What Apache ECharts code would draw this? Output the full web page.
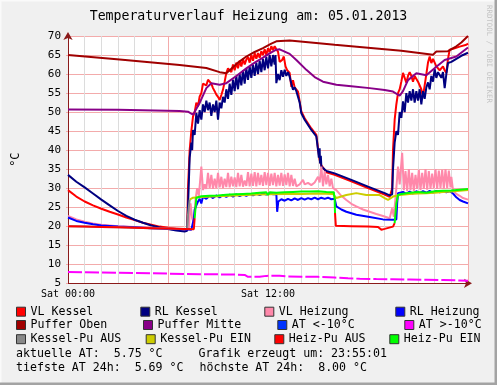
<!DOCTYPE html>
<html><head><meta charset="utf-8">
<script src="https://cdn.jsdelivr.net/npm/echarts@6/dist/echarts.min.js"></script>
<style>html,body{margin:0;padding:0;background:#F0F0F0}#c{width:497px;height:385px}</style>
</head><body><div id="c"></div><script>
// ---- data (hour of day, °C) ----
const titleText = 'Temperaturverlauf Heizung am: 05.01.2013';
const xTickLabels = {0: 'Sat 00:00', 12: 'Sat 12:00'};
const seriesNames = ['VL Kessel','RL Kessel','VL Heizung','RL Heizung','Puffer Oben','Puffer Mitte','AT <-10°C','AT >-10°C','Kessel-Pu AUS','Kessel-Pu EIN','Heiz-Pu AUS','Heiz-Pu EIN'];
const seriesColors = ['#FF0000','#000080','#FF88AA','#0000FF','#A00000','#880088','#0033FF','#FF00FF','#888888','#CCCC00','#FF0000','#00FF00'];
const aktuelleAT = '5.75', tiefsteAT = '5.69', hoechsteAT = '8.00', erzeugtUm = '23:55:01';

const vlKessel = [[0,29.5],[0.5,27.8],[1,26.5],[1.5,25.5],[2,24.6],[2.5,23.8],[3,23.1],[3.5,22.3],[4,21.6],[4.5,20.9],[5,20.4],[5.5,19.9],[6,19.6],[6.5,19.3],[7,19.1],[7.15,19.2],[7.2,30],[7.3,40],[7.4,45],[7.5,48.8],[7.6,50],[7.7,52.5],[7.8,51.5],[7.9,54.1],[8.0,55],[8.1,57.5],[8.2,58],[8.3,57],[8.4,58.5],[8.5,58.5],[8.6,57.5],[8.7,56.3],[8.8,55.5],[8.9,54.6],[9.0,54],[9.1,53.2],[9.2,54.5],[9.3,55.9],[9.4,58],[9.5,60.3],[9.6,61.5],[9.7,62],[9.8,60.5],[9.9,62.5],[10.0,61],[10.1,63],[10.2,61.5],[10.3,63.5],[10.4,62],[10.5,64],[10.6,62.5],[10.7,63.8],[10.8,64.5],[10.9,63],[11.0,65],[11.1,63.5],[11.2,65.5],[11.3,64],[11.4,65.5],[11.5,64.3],[11.6,66],[11.7,65],[11.8,66.5],[11.9,65],[12.0,66.8],[12.1,65.8],[12.2,67.3],[12.3,66.3],[12.4,67.3],[12.5,66.5],[12.6,65.9],[12.7,63.2],[12.85,63.7],[12.95,64.6],[13.05,62],[13.15,61],[13.3,60.3],[13.4,56.6],[13.5,58.4],[13.6,56.5],[13.8,55.4],[14.0,50.2],[14.2,48.4],[14.6,45.7],[14.9,44],[15.0,40.5],[15.1,37.4],[15.2,36],[15.5,34.2],[16.0,33.5],[17.0,31.8],[18.0,30],[19.0,28.3],[19.3,27.7],[19.45,30],[19.5,40],[19.6,48],[19.7,52],[19.8,55],[19.9,56],[20.0,58],[20.1,60.3],[20.2,59],[20.3,57.7],[20.4,59.5],[20.5,60.5],[20.6,59.5],[20.7,58],[20.8,59.5],[20.9,59.4],[21.0,58],[21.1,57.5],[21.2,56],[21.3,54.1],[21.4,57],[21.5,60],[21.6,63],[21.7,64.6],[21.8,62.9],[21.9,64],[22.0,63.5],[22.1,62],[22.2,62.5],[22.3,61],[22.4,60.8],[22.5,62],[22.6,61],[22.7,60.3],[22.8,64],[22.9,66.4],[23.2,66.8],[23.5,67.2],[23.9,67.7],[24.0,68]];
const rlKessel = [[0,33.5],[0.5,31.7],[1,30.2],[1.5,28.6],[2,27.0],[2.5,25.5],[3,24.0],[3.5,22.7],[4,21.7],[4.5,20.9],[5,20.2],[5.5,19.7],[6,19.3],[6.5,18.9],[7,18.6],[7.15,18.8],[7.2,25],[7.3,38],[7.4,42],[7.45,40],[7.5,45.3],[7.6,44],[7.7,49.8],[7.8,47],[7.9,50.5],[8.0,48],[8.1,52],[8.2,50],[8.3,53],[8.4,50.5],[8.5,52.5],[8.6,49],[8.7,52],[8.8,50],[8.9,53],[9.0,48],[9.1,52.5],[9.2,51],[9.3,54],[9.4,52.5],[9.5,56],[9.6,53.5],[9.7,57.5],[9.8,54.5],[9.9,58.5],[10.0,55.5],[10.1,59.5],[10.2,56],[10.3,60],[10.4,57],[10.5,61],[10.6,57.5],[10.7,61.5],[10.8,58.5],[10.9,62],[11.0,59],[11.1,62.5],[11.2,59.5],[11.3,63],[11.4,60],[11.5,63.5],[11.6,60.5],[11.7,64],[11.8,61],[11.9,64.5],[12.0,61.5],[12.1,65],[12.2,62],[12.3,65],[12.4,62.5],[12.45,65],[12.5,57.6],[12.6,60],[12.7,58.4],[12.8,61],[12.9,59.3],[13.0,61.1],[13.1,59.5],[13.2,60.5],[13.3,59.3],[13.4,57.5],[13.5,55.9],[13.6,56.5],[13.7,55.5],[13.8,55],[13.9,52.5],[14.0,49.7],[14.2,48],[14.6,45.3],[14.9,43.6],[15.0,40.1],[15.05,38],[15.1,40.5],[15.12,36.5],[15.17,38.5],[15.2,35.7],[15.5,34.5],[16.0,33.9],[17.0,32.2],[18.0,30.4],[19.0,28.7],[19.3,28.1],[19.45,28.4],[19.5,35],[19.6,42],[19.7,45],[19.8,44],[19.9,50],[20.0,48.5],[20.1,52.8],[20.2,50],[20.3,55],[20.4,52.5],[20.5,55.5],[20.6,53],[20.7,56],[20.8,52.5],[20.9,55.5],[21.0,53],[21.1,56],[21.2,52],[21.3,55.5],[21.4,53.5],[21.5,56.5],[21.6,57.8],[21.7,56],[21.8,59.5],[21.9,58],[22.0,61.3],[22.1,59],[22.2,60.5],[22.3,61],[22.4,59],[22.5,60.5],[22.6,56.3],[22.7,60],[22.8,62.9],[23.0,63.2],[23.3,64],[23.6,64.8],[24.0,65.6]];
const vlHeizung = [[0,22.7],[0.5,21.8],[1,21.2],[1.5,20.7],[2,20.4],[3,20],[4,19.8],[5,19.6],[6,19.4],[7,19.2],[7.25,19.3],[7.3,23],[7.35,26],[7.45,22],[7.55,21],[7.65,27],[7.75,30],[7.85,28],[8.0,35.7],[8.1,29.5],[8.2,31],[8.3,29.8],[8.4,34],[8.5,30],[8.6,33.5],[8.7,29.8],[8.8,32.5],[8.9,30],[9.0,34],[9.1,30.2],[9.2,33],[9.3,30],[9.4,32.5],[9.5,30.3],[9.6,34],[9.7,30.2],[9.8,33],[9.9,30.5],[10.0,32.8],[10.1,30.3],[10.2,34],[10.3,30.5],[10.4,33.5],[10.5,30.4],[10.6,32],[10.7,30.6],[10.8,34.2],[10.9,30.5],[11.0,33.8],[11.1,30.6],[11.2,34.2],[11.3,30.5],[11.4,34],[11.5,30.8],[11.6,33.5],[11.7,30.6],[11.8,34.2],[11.9,30.8],[12.0,34],[12.1,30.6],[12.2,33.8],[12.3,30.8],[12.4,34],[12.5,30.5],[12.6,33.5],[12.7,30.7],[12.8,34],[12.9,30.6],[13.0,33.6],[13.1,30.8],[13.2,34],[13.3,30.5],[13.4,33.5],[13.5,30.6],[13.6,32.5],[13.7,30.5],[13.9,31],[14.1,32.2],[14.2,31],[14.4,31.4],[14.6,30.8],[14.8,31.5],[14.9,31],[15.0,33],[15.1,31.5],[15.2,35.7],[15.3,30.5],[15.4,34.5],[15.5,31],[15.6,33.5],[15.7,30.5],[15.8,32.5],[15.9,30],[16.1,29.5],[16.4,28],[16.7,26.9],[17.0,25.9],[17.3,25.2],[17.7,24.4],[18.1,23.8],[18.5,23.2],[18.9,22.7],[19.3,22.1],[19.45,24.7],[19.55,22.5],[19.7,30],[19.8,35.7],[19.9,31],[20.05,39.3],[20.15,29.5],[20.25,34.5],[20.35,29.2],[20.45,35],[20.55,29.5],[20.65,34],[20.75,29.3],[20.85,33.5],[20.95,29.8],[21.05,34.8],[21.15,29.5],[21.25,34],[21.35,29.8],[21.45,35],[21.55,29.6],[21.65,34.5],[21.75,29.8],[21.85,33.8],[21.95,30],[22.05,35],[22.15,29.8],[22.25,34.6],[22.35,30],[22.45,34.8],[22.55,29.9],[22.65,35],[22.75,30],[22.85,34.6],[22.95,30.2],[23.0,33],[23.1,29.5],[23.3,28.5],[23.5,28],[23.7,27.4],[24.0,27]];
const rlHeizung = [[0,22.3],[0.5,21.4],[1,20.9],[1.5,20.5],[2,20.2],[3,19.9],[4,19.7],[5,19.5],[6,19.3],[7,19.2],[7.4,19.1],[7.5,19.6],[7.55,22],[7.6,24.3],[7.7,25.5],[7.8,26.5],[7.9,27.2],[8.0,26],[8.1,27.8],[8.3,27.2],[8.5,28],[8.7,27.4],[8.9,28.1],[9.1,27.6],[9.3,28.2],[9.5,27.7],[9.7,28.3],[9.9,27.8],[10.1,28.4],[10.3,27.9],[10.5,28.4],[10.7,28],[10.9,28.5],[11.1,28.1],[11.3,28.6],[11.5,28.2],[11.7,28.6],[11.9,28.3],[12.1,28.7],[12.3,28.4],[12.5,28.5],[12.55,23.8],[12.62,26.5],[12.8,27.1],[13.0,26.7],[13.2,27.2],[13.4,26.8],[13.6,27.3],[13.8,26.9],[14.0,27.4],[14.2,27],[14.4,27.4],[14.6,27.1],[14.8,27.5],[15.0,27.1],[15.2,27.5],[15.4,27.2],[15.6,27.5],[15.8,27.1],[16.0,27.2],[16.1,25.2],[16.4,24.4],[16.7,23.8],[17.3,23],[18.1,22.4],[18.9,21.8],[19.5,21.7],[19.7,21.8],[19.75,26],[19.8,28.7],[19.9,28.2],[20.1,29],[20.3,28.5],[20.5,29.1],[20.7,28.6],[20.9,29.2],[21.1,28.7],[21.3,29.2],[21.5,28.8],[21.7,29.3],[21.9,28.8],[22.1,29.3],[22.3,28.9],[22.5,29.3],[22.7,28.9],[22.9,29.2],[23.1,28.6],[23.3,27.6],[23.5,26.9],[23.7,26.5],[24.0,26]];
const pufferOben = [[0,65],[3.1,63.8],[6.7,62.4],[8.3,61.6],[9.1,60.5],[9.5,60.2],[9.7,61],[10.2,63],[10.7,64.6],[11.2,65.8],[11.7,66.8],[12.2,68],[12.5,68.6],[13.3,68.8],[16,67.7],[18,66.9],[20,66.1],[21.9,65.1],[22.1,65.9],[22.8,66],[23.3,67.3],[23.6,68.3],[24,70]];
const pufferMitte = [[0,50.7],[3,50.6],[6.7,50.3],[7.2,50.1],[7.5,49.3],[7.9,52.4],[8.3,56.3],[8.6,57.6],[9.1,57.2],[9.5,57.6],[10.1,59.5],[10.7,61.5],[11.2,63],[11.7,64.3],[12.2,65.7],[12.5,66.4],[12.7,66.5],[13.0,65.9],[13.3,65.3],[13.7,63.7],[14.3,61.1],[14.8,59.2],[15.3,58],[16.1,57.2],[17,56.8],[18.1,56.3],[19.0,55.8],[19.5,55.4],[19.9,54.3],[20.1,55.5],[20.4,58.4],[20.9,60.2],[21.5,59.7],[22.1,61.9],[22.6,63.7],[23.3,64.6],[24,67]];
const atBelowMinus10 = [];
const atAboveMinus10 = [[0,8.0],[1,7.9],[2,7.85],[3,7.75],[4,7.7],[5,7.62],[6,7.55],[7,7.45],[8,7.4],[9,7.35],[10,7.3],[10.6,7.2],[10.8,6.7],[11.5,6.7],[11.9,6.95],[12.7,7.0],[13.2,6.8],[14,6.75],[15,6.7],[16,6.5],[16.8,6.3],[17.5,6.2],[18.5,6.1],[19.5,6.05],[20.5,6.0],[21.5,5.95],[22.5,5.85],[23.5,5.75],[24,5.7]];
const kesselPuAus = [[0,20],[1,19.9],[2,19.8],[3,19.7],[4,19.6],[5,19.5],[6,19.4],[7,19.3],[7.15,19.3],[7.2,23],[7.3,27]];
const kesselPuEin = [[7.3,27],[7.4,27.3],[7.5,27.5],[8,27.7],[9,27.9],[10,28.1],[11,28.3],[12,28.4],[13,28.5],[14,28.5],[15,28.6],[15.9,28.5],[16.1,27.4],[16.7,28.2],[17.3,28.7],[17.9,28.2],[18.7,28.2],[19.0,27.4],[19.2,26.9],[19.5,27.8],[19.9,28.2],[20.5,28.5],[21,28.6],[21.5,28.7],[22,28.8],[22.5,29],[23,29.1],[23.5,29.3],[24,29.5]];
const heizPuAus = [[0,20],[1,19.9],[2,19.8],[3,19.7],[4,19.6],[5,19.5],[6,19.4],[7,19.3],[7.55,19.2],[7.6,22.1],[7.62,null],[16.02,23.5],[16.07,20.1],[17,20],[18,19.9],[18.6,19.8],[18.8,19.1],[19.0,19.3],[19.1,19.8],[19.5,19.9],[19.6,20.8],[19.62,null]];
const heizPuEin = [[7.6,22.1],[7.65,22.5],[7.7,27.5],[7.8,28],[8.0,27.9],[8.5,28],[9.0,28.1],[9.5,28.3],[10,28.4],[10.5,28.5],[11,28.6],[11.5,28.8],[11.9,28.9],[12.0,28.2],[12.1,28.9],[12.5,28.8],[13,28.9],[13.5,29.0],[14,29.1],[14.5,29.1],[15,29.2],[15.5,29],[15.95,28.9],[16.0,27],[16.02,23.5],[16.04,null],[19.6,20.8],[19.7,26],[19.8,28.2],[20,28.5],[20.5,28.8],[21,29],[21.5,28.8],[22,29.2],[22.5,29.3],[23,29.4],[23.5,29.6],[24,29.8]];
const seriesData = [vlKessel, rlKessel, vlHeizung, rlHeizung, pufferOben, pufferMitte, atBelowMinus10, atAboveMinus10, kesselPuAus, kesselPuEin, heizPuAus, heizPuEin];

// ---- layout ----
const MONO = '"DejaVu Sans Mono", monospace';
const legendPos = [[16,305.2],[140.3,305.2],[264.3,305.2],[395.3,305.2],
                   [16,318.5],[143,318.5],[277.3,318.5],[404.3,318.5],
                   [16,332.7],[145.7,332.7],[274.3,332.7],[389.3,332.7]];
const axisColor = '#8B1A1A';

const chart = echarts.init(document.getElementById('c'), null, {renderer:'canvas'});
const option = {
  animation: false,
  backgroundColor: '#F0F0F0',
  title: {text: titleText, left: 'center', top: 10, padding: 0,
    textStyle: {fontFamily: MONO, fontSize: 13.2, fontWeight: 'normal', color: '#000', lineHeight: 14}},
  grid: {left: 68, top: 36, width: 400, height: 247.3, backgroundColor: '#FFFFFF', show: true, borderWidth: 0},
  legend: seriesNames.map((n, i) => ({
    data: [n], left: legendPos[i][0], top: legendPos[i][1], padding: 0,
    icon: 'rect', itemWidth: 9, itemHeight: 9, selectedMode: false,
    itemStyle: {borderColor: '#333', borderWidth: 1},
    textStyle: {fontFamily: MONO, fontSize: 11.6, color: '#000', lineHeight: 13}
  })),
  xAxis: {
    type: 'value', min: 0, max: 24, interval: 6,
    axisLine: {show: true, lineStyle: {color: axisColor, width: 1}, symbol: ['none','arrow'], symbolSize: [7,8], symbolOffset: [0,4]},
    axisTick: {show: false},
    minorTick: {show: false, splitNumber: 6},
    minorSplitLine: {show: true, lineStyle: {color: '#DCDCDC', width: 1}},
    splitLine: {show: true, lineStyle: {color: '#F3ABAB', width: 1}},
    axisLabel: {fontFamily: MONO, fontSize: 10, color: '#000', margin: 6,
      formatter: v => xTickLabels[v] || ''}
  },
  yAxis: {
    type: 'value', min: 5, max: 70, interval: 5,
    name: '°C', nameLocation: 'middle', nameGap: 46, nameRotate: 90,
    nameTextStyle: {fontFamily: MONO, fontSize: 12, color: '#000'},
    axisLine: {show: true, lineStyle: {color: axisColor, width: 1}, symbol: ['none','arrow'], symbolSize: [7,8], symbolOffset: [0,4]},
    axisTick: {show: true, length: 2, lineStyle: {color: '#F3ABAB'}},
    splitLine: {show: true, lineStyle: {color: '#F3ABAB', width: 1}},
    axisLabel: {fontFamily: MONO, fontSize: 11, color: '#000', margin: 7}
  },
  series: seriesNames.map((n, i) => ({
    name: n, type: 'line', data: seriesData[i], showSymbol: false, symbol: 'none',
    connectNulls: false, silent: true,
    color: seriesColors[i],
    lineStyle: {color: seriesColors[i], width: 2, type: i === 7 ? [14,3] : 'solid'}
  })),
  graphic: [
    {type: 'text', x: 489, y: 5, rotation: -Math.PI/2, silent: true,
      style: {text: 'RRDTOOL / TOBI OETIKER', fontFamily: MONO, fontSize: 7.4, fill: '#C4C4C4', align: 'left', verticalAlign: 'middle'}},
    {type: 'text', x: 16, y: 353.5, silent: true,
      style: {text: 'aktuelle AT:  ' + aktuelleAT + ' °C', fontFamily: MONO, fontSize: 11.6, fill: '#000', verticalAlign: 'middle'}},
    {type: 'text', x: 198.5, y: 353.5, silent: true,
      style: {text: 'Grafik erzeugt um: ' + erzeugtUm, fontFamily: MONO, fontSize: 11.6, fill: '#000', verticalAlign: 'middle'}},
    {type: 'text', x: 16, y: 367.5, silent: true,
      style: {text: 'tiefste AT 24h:  ' + tiefsteAT + ' °C', fontFamily: MONO, fontSize: 11.6, fill: '#000', verticalAlign: 'middle'}},
    {type: 'text', x: 199.5, y: 367.5, silent: true,
      style: {text: 'höchste AT 24h:  ' + hoechsteAT + ' °C', fontFamily: MONO, fontSize: 11.6, fill: '#000', verticalAlign: 'middle'}},
    {type: 'rect', shape: {x: 0, y: 0, width: 497, height: 1.5}, style: {fill: '#FAFAFA'}, silent: true},
    {type: 'rect', shape: {x: 0, y: 0, width: 1.5, height: 385}, style: {fill: '#FAFAFA'}, silent: true},
    {type: 'rect', shape: {x: 494.5, y: 0, width: 2.5, height: 385}, style: {fill: '#A3A3A3'}, silent: true},
    {type: 'rect', shape: {x: 0, y: 382.5, width: 497, height: 2.5}, style: {fill: '#A3A3A3'}, silent: true}
  ]
};
chart.setOption(option);
</script></body></html>
